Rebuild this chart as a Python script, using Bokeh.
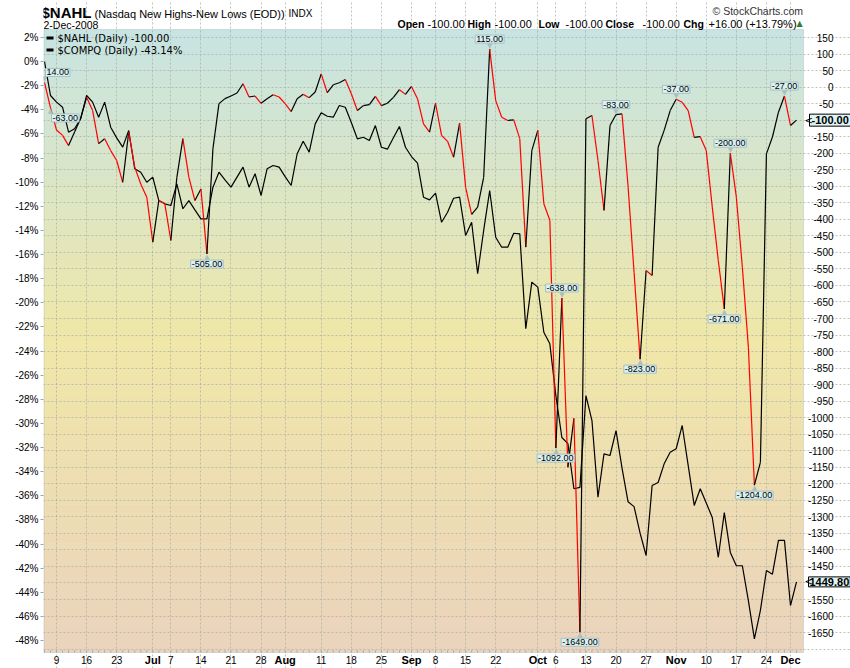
from bokeh.plotting import figure
from bokeh.models import (Range1d, LinearAxis, FixedTicker, PrintfTickFormatter, Grid,
                          Label, LabelSet, ColumnDataSource, BoxAnnotation)
from bokeh.embed import file_html
from bokeh.resources import INLINE
from bokeh.core.properties import value

# ---------------- data (trading days 5-Jun-2008 .. 2-Dec-2008) ----------------
nahl = [14, -63, -130, -146, -177, -136, -95, -31, -71, -171,
        -156, -192, -222, -288, -136, -242, -293, -333, -469, -343,
        -353, -464, -273, -156, -273, -343, -308, -505, -186, -50,
        -35, -27, -18, 10, -30, -27, -49, -35, -23, -30,
        -50, -74, -35, -22, -32, -15, 40, -17, 7, 13,
        23, -20, -71, -56, -53, -28, -56, -49, -31, -8,
        -22, 2, -35, -111, -136, -49, -146, -164, -212, -109,
        -303, -385, -363, -273, 115, -41, -91, -101, -99, -156,
        -484, -192, -131, -353, -403, -1092, -638, -1150, -1002, -1649,
        -96, -86, -222, -373, -116, -83, -81, -300, -560, -823,
        -555, -570, -182, -131, -71, -37, -46, -71, -152, -150,
        -192, -363, -525, -671, -200, -333, -545, -787, -1204, -1135,
        -202, -151, -76, -27, -116, -100]

compq = [0.0, -2.81, -3.36, -3.78, -5.85, -5.57, -4.74, -2.81, -3.36, -4.61,
         -3.36, -5.44, -6.32, -7.09, -5.71, -8.89, -9.17, -10.0, -9.58, -11.52,
         -11.79, -11.93, -10.13, -12.2, -11.52, -12.29, -13.04, -13.04, -10.41, -9.17,
         -9.8, -10.41, -9.58, -8.75, -10.41, -9.3, -11.1, -8.89, -8.61, -8.75,
         -9.53, -10.27, -7.64, -6.6, -7.51, -5.16, -4.24, -4.53, -4.61, -3.64,
         -3.78, -5.05, -6.4, -6.27, -6.54, -5.3, -7.1, -7.26, -6.32, -5.38,
         -7.1, -7.87, -8.42, -11.24, -11.46, -10.91, -13.32, -12.49, -11.33, -11.24,
         -14.42, -13.32, -17.59, -14.0, -10.69, -14.56, -15.39, -15.39, -14.23, -14.28,
         -22.15, -18.29, -18.7, -22.44, -23.4, -27.7, -31.17, -31.67, -35.42, -35.3,
         -27.7, -29.76, -36.12, -32.52, -32.66, -30.6, -33.7, -36.5, -36.9, -39.1,
         -40.95, -35.15, -34.9, -33.35, -32.39, -32.1, -30.17, -33.5, -36.8, -35.42,
         -36.6, -37.8, -41.1, -37.4, -40.7, -41.8, -41.8, -44.7, -47.86, -45.5,
         -42.2, -42.5, -39.7, -39.7, -45.1, -43.14]

tick_idx = [2, 7, 12, 18, 21, 26, 31, 36, 40, 46, 51, 56, 61, 65, 70, 75, 82, 85,
            90, 95, 100, 105, 110, 115, 120, 124]
tick_lbl = ["9", "16", "23", "Jul", "7", "14", "21", "28", "Aug", "11", "18", "25",
            "Sep", "8", "15", "22", "Oct", "6", "13", "20", "27", "Nov", "10", "17",
            "24", "Dec"]
month_names = ["Jul", "Aug", "Sep", "Oct", "Nov", "Dec"]

pct_ticks = list(range(2, -49, -2))
nahl_ticks = list(range(150, -1651, -50))

ann_idx = [0, 1, 27, 74, 85, 86, 89, 95, 99, 105, 113, 114, 118, 123]
ann_pos = ["above", "below", "below", "above", "below", "above", "below",
           "above", "below", "above", "below", "above", "below", "above"]

# ---------------- geometry helpers (layout only) ----------------
W, H = 850, 668
FL, FR, FT, FB = 43, 803, 29, 652          # plot panel in the reference
X0, DX = 44.0, 6.016
def xs(px):
    return (px - X0) / DX
def yn(py):
    return 150 + (37 - py) / 0.3306
def yp(py):
    return 2 + (37 - py) / 12.06

p = figure(width=W, height=H, output_backend="svg", toolbar_location=None,
           x_range=Range1d(xs(FL), xs(W)), y_range=Range1d(yn(H), yn(0)),
           x_axis_location=None, y_axis_location=None,
           min_border_left=FL, min_border_right=0,
           min_border_top=0, min_border_bottom=0)
p.extra_y_ranges = {"pct": Range1d(yp(H), yp(0))}
p.outline_line_color = None
p.border_fill_color = "white"
p.background_fill_color = "white"
for g in p.grid:
    g.visible = False

# gradient background of the panel
stops = [(0.0, (198, 228, 227)), (0.5, (240, 231, 168)), (1.0, (235, 211, 189))]
def col(t):
    for (t0, c0), (t1, c1) in zip(stops[:-1], stops[1:]):
        if t <= t1:
            f = (t - t0) / (t1 - t0)
            return "#%02x%02x%02x" % tuple(int(round(a + (b - a) * f)) for a, b in zip(c0, c1))
    return "#%02x%02x%02x" % stops[-1][1]
NB = 80
ytop, ybot = yn(FT), yn(FB)
bt, bb, bc = [], [], []
for k in range(NB):
    t0, t1 = k / NB, (k + 1) / NB
    bt.append(min(ytop, ytop - (ytop - ybot) * t0 + 1))
    bb.append(max(ybot, ytop - (ytop - ybot) * t1 - 1))
    bc.append(col((t0 + t1) / 2))
p.quad(left=xs(FL), right=xs(FR), top=bt, bottom=bb, fill_color=bc,
       line_color=None, level="image")

# left (percentage) axis
tick_font = "Liberation Sans"
lax = LinearAxis(y_range_name="pct", ticker=FixedTicker(ticks=pct_ticks),
                 formatter=PrintfTickFormatter(format="%d%%"))
lax.axis_line_color = None
lax.major_tick_out = 3
lax.major_tick_in = 0
lax.minor_tick_out = 0
lax.minor_tick_in = 0
lax.major_tick_line_color = "#93aab0"
lax.major_label_standoff = 2
lax.major_label_text_font = tick_font
lax.major_label_text_font_size = "10px"
lax.major_label_text_color = "black"
p.add_layout(lax, "left")

# grids limited to the panel
gcol = "#a9b0a4"
p.add_layout(Grid(dimension=0, ticker=FixedTicker(ticks=tick_idx), bounds=(ybot, ytop),
                  grid_line_color=gcol, grid_line_dash="2 2", grid_line_alpha=0.75))
p.add_layout(Grid(dimension=1, ticker=FixedTicker(ticks=list(range(-1700, 151, 50))),
                  bounds=(xs(FL), xs(FR)),
                  grid_line_color=gcol, grid_line_dash="2 2", grid_line_alpha=0.75))

# panel border
p.add_layout(BoxAnnotation(left=xs(FL + 0.5), right=xs(FR), top=yn(FT), bottom=yn(FB),
                           fill_color=None, line_color="#93aab0", line_width=1))

# bottom date labels and daily tick marks
days = [l for l in tick_lbl if l not in month_names]
dpos = [i for i, l in zip(tick_idx, tick_lbl) if l not in month_names]
dsrc = ColumnDataSource(dict(x=dpos, y=[yn(659)] * len(dpos), t=days))
p.add_layout(LabelSet(x="x", y="y", text="t", source=dsrc, text_align="center",
                      text_baseline="middle", text_font=value(tick_font),
                      text_font_size=value("10px"), text_color="black"))
mpos = [i for i, l in zip(tick_idx, tick_lbl) if l in month_names]
mlab = [l for l in tick_lbl if l in month_names]
msrc = ColumnDataSource(dict(x=mpos, y=[yn(659)] * len(mpos), t=mlab))
p.add_layout(LabelSet(x="x", y="y", text="t", source=msrc, text_align="center",
                      text_baseline="middle", text_font=value(tick_font),
                      text_font_style="bold", text_font_size=value("11px"),
                      text_color="black"))
xi = list(range(len(nahl)))
p.segment(x0=xi, y0=[yn(FB)] * len(xi), x1=xi, y1=[yn(FB - 2)] * len(xi),
          line_color="#93aab0", line_width=1)

# right (NAHL) axis labels, right aligned
rsrc = ColumnDataSource(dict(x=[xs(833)] * len(nahl_ticks), y=nahl_ticks,
                             t=[str(v) for v in nahl_ticks]))
p.add_layout(LabelSet(x="x", y="y", text="t", source=rsrc,
                      text_align="right", text_baseline="middle",
                      text_font=value(tick_font), text_font_size=value("10px"),
                      text_color="black"))

# series
p.line(xi, compq, y_range_name="pct", line_color="black", line_width=1.2)
seg_col = ["#ff0000" if b < a else "black" for a, b in zip(nahl[:-1], nahl[1:])]
p.segment(x0=xi[:-1], y0=nahl[:-1], x1=xi[1:], y1=nahl[1:], line_color=seg_col,
          line_width=1.2)

# extreme-value annotations
box_fill = "#d9f1f1"
box_line = "#a7c0c4"
for i, pos in zip(ann_idx, ann_pos):
    v = nahl[i]
    xoff = 0
    align = "center"
    if i in (0, 1):
        align = "left"
        xoff = 1
    if pos == "above":
        p.add_layout(Label(x=i, y=v, text="%.2f" % v, x_offset=xoff, y_offset=6,
                           text_align=align, text_baseline="bottom",
                           text_font="Liberation Sans", text_font_size="9px",
                           text_color="black", background_fill_color=box_fill,
                           border_line_color=box_line, padding=1))
        p.add_layout(Label(x=i, y=v, text="\u25BC", y_offset=3,
                           text_align="center", text_baseline="middle",
                           text_font="DejaVu Sans", text_font_size="7px",
                           text_color=box_line))
    else:
        p.add_layout(Label(x=i, y=v, text="%.2f" % v, x_offset=xoff, y_offset=-6,
                           text_align=align, text_baseline="top",
                           text_font="Liberation Sans", text_font_size="9px",
                           text_color="black", background_fill_color=box_fill,
                           border_line_color=box_line, padding=1))
        p.add_layout(Label(x=i, y=v, text="\u25B2", y_offset=-3,
                           text_align="center", text_baseline="middle",
                           text_font="DejaVu Sans", text_font_size="7px",
                           text_color=box_line))

# last-value boxes on the right
p.add_layout(Label(x=xs(FR), y=nahl[-1], x_offset=6, text="%.2f" % nahl[-1],
                   text_align="left", text_baseline="middle", text_font="Liberation Sans",
                   text_font_style="bold", text_font_size="11px", text_color="black",
                   background_fill_color="#dff5f5", border_line_color="black", padding=2))
p.add_layout(Label(x=xs(FR), y=compq[-1], y_range_name="pct", x_offset=5, text="1449.80",
                   text_align="left", text_baseline="middle", text_font="Liberation Sans",
                   text_font_style="bold", text_font_size="11px", text_color="black",
                   background_fill_color="#dff5f5", border_line_color="black", padding=1))
for yv, rn in [(nahl[-1], "default"), (compq[-1], "pct")]:
    p.add_layout(Label(x=xs(FR), y=yv, y_range_name=rn, x_offset=1, text="<",
                       text_align="left", text_baseline="middle", text_font="DejaVu Sans",
                       text_font_size="10px", text_color="black"))

# legend
for py, txt in [(37.5, "$NAHL (Daily) -100.00"), (49.5, "$COMPQ (Daily) -43.14%")]:
    p.add_layout(BoxAnnotation(left=xs(46), right=xs(53), top=yn(py - 1.5),
                               bottom=yn(py + 1.5), fill_color="black", fill_alpha=1,
                               line_color=None))
    p.add_layout(Label(x=xs(57), y=yn(py), text=txt, text_align="left",
                       text_baseline="middle", text_font="DejaVu Sans",
                       text_font_size="10px", text_color="black"))

# header
def hdr(px, py, txt, size, bold=False, color="black", font="Liberation Sans"):
    p.add_layout(Label(x=xs(px), y=yn(py), text=txt, text_align="left",
                       text_baseline="middle", text_font=font,
                       text_font_style="bold" if bold else "normal",
                       text_font_size=size, text_color=color))

hdr(41, 12, "$NAHL", "15px", True)
hdr(94, 13, "(Nasdaq New Highs-New Lows (EOD))", "11px")
hdr(288, 13, "INDX", "10px")
hdr(43, 24, "2-Dec-2008", "10.5px")
hdr(712, 10, "\u00A9 StockCharts.com", "10.5px", color="#333333")
for px, txt, b in [(397, "Open", True), (427, "-100.00", False), (467, "High", True),
                   (494, "-100.00", False), (538, "Low", True), (565, "-100.00", False),
                   (605, "Close", True), (642, "-100.00", False), (683, "Chg", True),
                   (708, "+16.00 (+13.79%)", False)]:
    hdr(px, 23, txt, "10.5px" if b else "11px", b)
hdr(796, 23, "\u25B2", "8px", color="#2e7d32", font="DejaVu Sans")

open("out.html", "w").write(file_html(p, INLINE))
